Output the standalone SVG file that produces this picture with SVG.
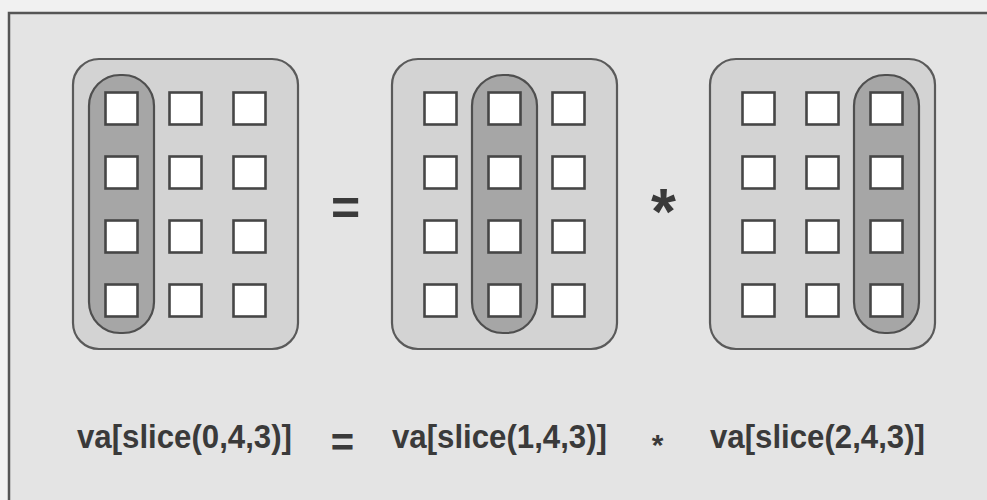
<svg xmlns="http://www.w3.org/2000/svg" width="987" height="500" viewBox="0 0 987 500">
<style>
.outer{fill:#d3d3d3;stroke:#5a5a5a;stroke-width:2.2}
.pill{fill:#a6a6a6;stroke:#4f4f4f;stroke-width:2.2}
.cell{fill:#ffffff;stroke:#464646;stroke-width:2.6}
.lbl{font-family:"Liberation Sans",Arial,sans-serif;font-weight:bold;font-size:33px;fill:#3a3a3a}
.op{font-family:"Liberation Sans",Arial,sans-serif;font-weight:bold;fill:#3a3a3a;text-anchor:middle}
</style>
<defs>
<g id="grid">
<rect class="cell" x="32.5" y="33.5" width="32" height="32"/>
<rect class="cell" x="96.5" y="33.5" width="32" height="32"/>
<rect class="cell" x="160.5" y="33.5" width="32" height="32"/>
<rect class="cell" x="32.5" y="97.5" width="32" height="32"/>
<rect class="cell" x="96.5" y="97.5" width="32" height="32"/>
<rect class="cell" x="160.5" y="97.5" width="32" height="32"/>
<rect class="cell" x="32.5" y="161.5" width="32" height="32"/>
<rect class="cell" x="96.5" y="161.5" width="32" height="32"/>
<rect class="cell" x="160.5" y="161.5" width="32" height="32"/>
<rect class="cell" x="32.5" y="225.5" width="32" height="32"/>
<rect class="cell" x="96.5" y="225.5" width="32" height="32"/>
<rect class="cell" x="160.5" y="225.5" width="32" height="32"/>
</g>
</defs>
<rect x="0" y="0" width="987" height="500" fill="#f1f1f1"/>
<rect x="9" y="13" width="990" height="500" fill="#e4e4e4" stroke="#555555" stroke-width="2.5"/>

<g id="panel1" transform="translate(73,59)">
<rect class="outer" x="0" y="0" width="225" height="290" rx="26" ry="26"/>
<rect class="pill" x="16" y="16" width="65" height="258" rx="31" ry="31"/>
<use href="#grid"/>
</g>
<g id="panel2" transform="translate(392,59)">
<rect class="outer" x="0" y="0" width="225" height="290" rx="26" ry="26"/>
<rect class="pill" x="80" y="16" width="65" height="258" rx="31" ry="31"/>
<use href="#grid"/>
</g>
<g id="panel3" transform="translate(710,59)">
<rect class="outer" x="0" y="0" width="225" height="290" rx="26" ry="26"/>
<rect class="pill" x="144" y="16" width="65" height="258" rx="31" ry="31"/>
<use href="#grid"/>
</g>

<g id="operators">
<text class="op" x="345.5" y="225" font-size="50">=</text>
<text class="op" x="663.5" y="234" font-size="64">*</text>
<text class="op" x="342.5" y="456" font-size="40">=</text>
<text class="op" x="657.5" y="455" font-size="30">*</text>
</g>

<g id="labels">
<text class="lbl" x="77" y="448" textLength="215" lengthAdjust="spacingAndGlyphs">va[slice(0,4,3)]</text>
<text class="lbl" x="392" y="448" textLength="215" lengthAdjust="spacingAndGlyphs">va[slice(1,4,3)]</text>
<text class="lbl" x="710" y="448" textLength="215" lengthAdjust="spacingAndGlyphs">va[slice(2,4,3)]</text>
</g>
</svg>
